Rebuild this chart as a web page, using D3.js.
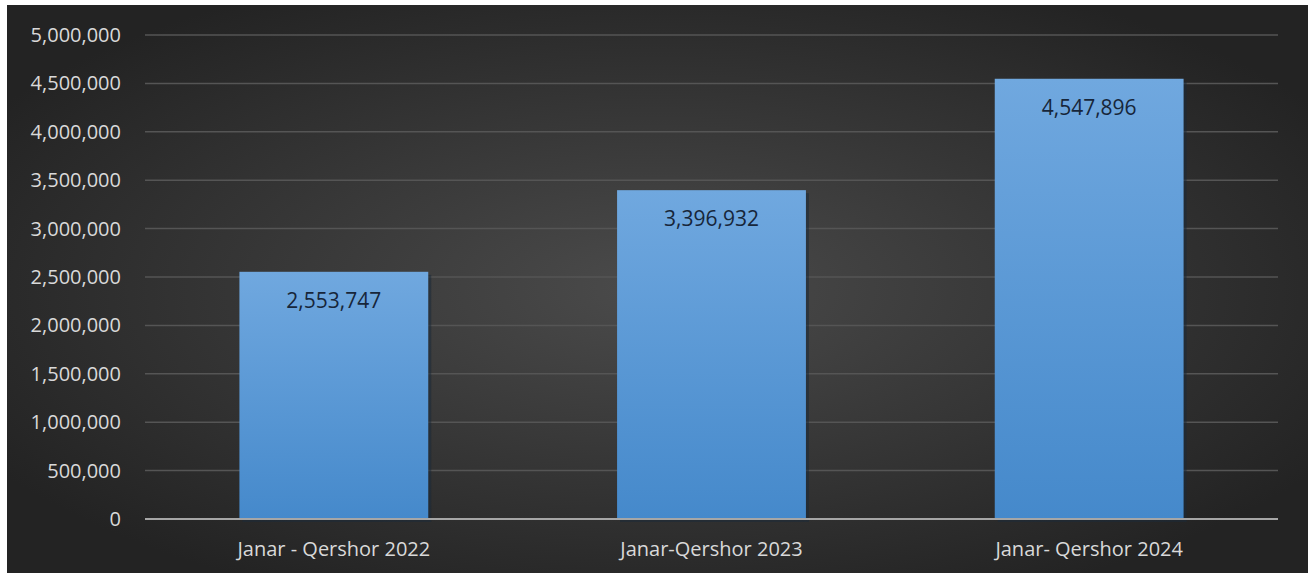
<!DOCTYPE html>
<html>
<head>
<meta charset="utf-8">
<script src="https://cdn.jsdelivr.net/npm/d3@7"></script>
<style>
  body { margin: 0; background: #fff; }
  svg { display: block; }
</style>
</head>
<body>
<script>
// Data
const categories = ['Janar - Qershor 2022', 'Janar-Qershor 2023', 'Janar- Qershor 2024']
const values = [2553747, 3396932, 4547896]
const yTicks = [0, 500000, 1000000, 1500000, 2000000, 2500000, 3000000, 3500000, 4000000, 4500000, 5000000]

const width = 1308
const height = 575
const margin = { top: 35, right: 30, bottom: 56, left: 145 }
const font = "'Open Sans', 'Liberation Sans', sans-serif"

const svg = d3.select('body')
  .append('svg')
  .attr('width', width)
  .attr('height', height)

const defs = svg.append('defs')

const bg = defs.append('radialGradient')
  .attr('id', 'bg')
  .attr('cx', '50%').attr('cy', '50%').attr('r', '60%')
bg.append('stop').attr('offset', '0%').attr('stop-color', '#4b4b4b')
bg.append('stop').attr('offset', '100%').attr('stop-color', '#232323')

const barGrad = defs.append('linearGradient')
  .attr('id', 'bar')
  .attr('x1', 0).attr('y1', 0).attr('x2', 0).attr('y2', 1)
barGrad.append('stop').attr('offset', '0%').attr('stop-color', '#70a8df')
barGrad.append('stop').attr('offset', '100%').attr('stop-color', '#4589cb')

// background panel (white frame on top/left like the source)
svg.append('rect')
  .attr('x', 7).attr('y', 5)
  .attr('width', width - 7).attr('height', height - 7)
  .attr('fill', 'url(#bg)')

const x = d3.scaleBand()
  .domain(categories)
  .range([margin.left, width - margin.right])
  .paddingInner(0.5)
  .paddingOuter(0.25)

const y = d3.scaleLinear()
  .domain([0, 5000000])
  .range([height - margin.bottom, margin.top])

// gridlines
svg.append('g')
  .selectAll('line')
  .data(yTicks.filter(d => d > 0))
  .join('line')
  .attr('x1', margin.left)
  .attr('x2', width - margin.right)
  .attr('y1', d => y(d))
  .attr('y2', d => y(d))
  .attr('stroke', '#555555')
  .attr('stroke-width', 1.5)

// y axis labels
const yAxis = d3.axisLeft(y)
  .tickValues(yTicks)
  .tickFormat(d3.format(','))
  .tickSize(0)
  .tickPadding(24)

svg.append('g')
  .attr('transform', `translate(${margin.left},0)`)
  .call(yAxis)
  .call(g => g.select('.domain').remove())
  .selectAll('text')
  .attr('fill', '#d9d9d9')
  .style('font-family', font)
  .style('font-size', '20px')

// bar shadows
svg.append('g')
  .selectAll('rect')
  .data(values)
  .join('rect')
  .attr('x', (d, i) => x(categories[i]) + 3)
  .attr('y', d => y(d) + 3)
  .attr('width', x.bandwidth())
  .attr('height', d => y(0) - y(d))
  .attr('fill', '#1b2a38')
  .attr('opacity', 0.55)

// bars
svg.append('g')
  .selectAll('rect')
  .data(values)
  .join('rect')
  .attr('x', (d, i) => x(categories[i]))
  .attr('y', d => y(d))
  .attr('width', x.bandwidth())
  .attr('height', d => y(0) - y(d))
  .attr('fill', 'url(#bar)')

// value labels
svg.append('g')
  .selectAll('text')
  .data(values)
  .join('text')
  .attr('x', (d, i) => x(categories[i]) + x.bandwidth() / 2)
  .attr('y', d => y(d) + 36)
  .attr('text-anchor', 'middle')
  .attr('fill', '#17263a')
  .style('font-family', font)
  .style('font-size', '21px')
  .text(d => d3.format(',')(d))

// zero axis line
svg.append('line')
  .attr('x1', margin.left)
  .attr('x2', width - margin.right)
  .attr('y1', y(0))
  .attr('y2', y(0))
  .attr('stroke', '#a6a6a6')
  .attr('stroke-width', 2)

// x axis labels
const xAxis = d3.axisBottom(x)
  .tickSize(0)
  .tickPadding(23)

svg.append('g')
  .attr('transform', `translate(0,${y(0)})`)
  .call(xAxis)
  .call(g => g.select('.domain').remove())
  .selectAll('text')
  .attr('fill', '#d9d9d9')
  .style('font-family', font)
  .style('font-size', '20px')
</script>
</body>
</html>
